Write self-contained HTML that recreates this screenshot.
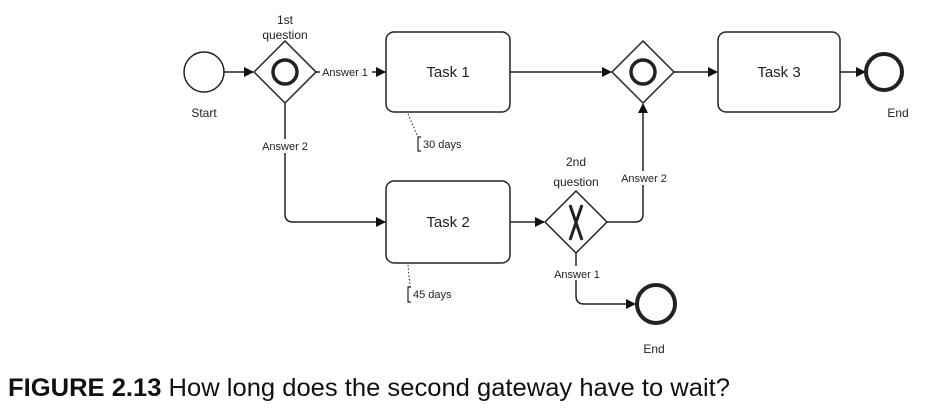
<!DOCTYPE html>
<html><head><style>body{margin:0;background:#fff}svg{display:block}</style></head><body>
<svg width="933" height="408" xmlns="http://www.w3.org/2000/svg" font-family="Liberation Sans, sans-serif">
<defs><marker id="a" markerWidth="10" markerHeight="10" refX="9" refY="5" orient="auto" markerUnits="userSpaceOnUse"><path d="M0,0 L10,5 L0,10 z" fill="#111"/></marker></defs>
<g stroke="#222" stroke-width="1.5" fill="none">
<circle cx="204" cy="72" r="20"/>
<path d="M224,72 H253" marker-end="url(#a)"/>
<path d="M285,41 L316,72 L285,103 L254,72 Z"/>
<circle cx="285" cy="72" r="12" stroke-width="3.5"/>
<path d="M316,72 H385" marker-end="url(#a)"/>
<rect x="386" y="32" width="124" height="80" rx="8"/>
<path d="M510,72 H611" marker-end="url(#a)"/>
<path d="M643,41 L674,72 L643,103 L612,72 Z"/>
<circle cx="643" cy="72" r="12" stroke-width="3.5"/>
<path d="M674,72 H717" marker-end="url(#a)"/>
<rect x="718" y="32" width="122" height="80" rx="8"/>
<path d="M840,72 H865" marker-end="url(#a)"/>
<circle cx="884" cy="72" r="18" stroke-width="4"/>
<path d="M285,103 V214 Q285,222 293,222 H385" marker-end="url(#a)"/>
<rect x="386" y="181" width="124" height="82" rx="8"/>
<path d="M510,222 H544" marker-end="url(#a)"/>
<path d="M576,191 L607,222 L576,253 L545,222 Z"/>
<path d="M570,205 L582,240 M582,205 L570,240" stroke-width="3"/>
<path d="M607,222 H635 Q643,222 643,214 V104" marker-end="url(#a)"/>
<path d="M576,253 V296 Q576,304 584,304 H635" marker-end="url(#a)"/>
<circle cx="656" cy="304" r="19" stroke-width="4"/>
<path d="M408,114 L418,137" stroke-dasharray="1.5,2" stroke-width="1"/>
<path d="M421,137 H418 V151 H421" stroke-width="1.2"/>
<path d="M408,265 L410,287" stroke-dasharray="1.5,2" stroke-width="1"/>
<path d="M411,287 H408 V302 H411" stroke-width="1.2"/>
</g>
<g fill="#222" font-size="12" text-anchor="middle">
<rect x="320" y="65" width="52" height="14" fill="#fff"/>
<text x="345" y="76" font-size="11">Answer 1</text>
<text x="285" y="24">1st</text><text x="285" y="39">question</text>
<text x="204" y="117">Start</text>
<rect x="258" y="139" width="54" height="14" fill="#fff"/>
<text x="285" y="150" font-size="11">Answer 2</text>
<text x="448" y="77" font-size="15">Task 1</text>
<text x="779" y="77" font-size="15">Task 3</text>
<text x="898" y="117">End</text>
<text x="448" y="227" font-size="15">Task 2</text>
<text x="576" y="166">2nd</text><text x="576" y="186">question</text>
<rect x="617" y="171" width="54" height="14" fill="#fff"/>
<text x="644" y="182" font-size="11">Answer 2</text>
<rect x="550" y="266" width="54" height="14" fill="#fff"/>
<text x="577" y="278" font-size="11">Answer 1</text>
<text x="654" y="353">End</text>
<text x="423" y="148" font-size="11" text-anchor="start">30 days</text>
<text x="413" y="298" font-size="11" text-anchor="start">45 days</text>
</g>
<text x="8" y="396" font-size="25" fill="#111" textLength="722" lengthAdjust="spacingAndGlyphs"><tspan font-weight="bold">FIGURE 2.13</tspan> How long does the second gateway have to wait?</text>
</svg>
</body></html>
